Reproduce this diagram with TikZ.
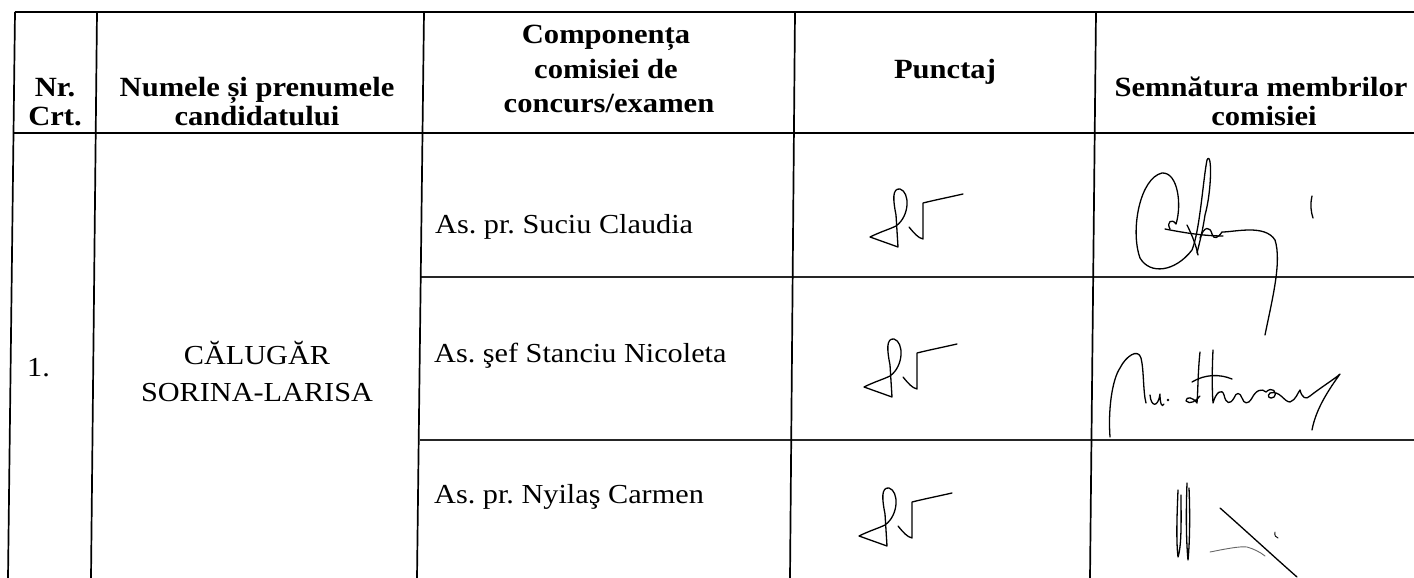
\documentclass[tikz,border=0pt]{standalone}
\usepackage{fontspec}
\setmainfont{Liberation Serif}[BoldFont={Liberation Serif Bold},FakeStretch=1.1]
\begin{document}
\frenchspacing
\begin{tikzpicture}[x=1pt,y=-1pt,
  rule/.style={line width=1.7pt,black},
  thin rule/.style={line width=1.4pt,black!85},
  head/.style={font=\fontsize{27.8}{32}\selectfont\bfseries,inner sep=0pt,anchor=base},
  body/.style={font=\fontsize{27.5}{32}\selectfont,inner sep=0pt},
  hand/.style={line width=1.3pt,line cap=round,line join=round,black},
  score/.pic={
    \draw[hand] (898,247) -- (870,237) .. controls (880,232) and (890,229) .. (896,226)
      .. controls (910,216) and (910,192) .. (900,189) .. controls (892,188) and (893,200) .. (896,215) -- (898,247);
    \draw[hand] (909,227) .. controls (914,233) and (918,238) .. (923,239) -- (923,203)
      .. controls (935,200) and (950,197) .. (963,194);
  }]
\useasboundingbox (0,0) rectangle (1414,578);
% frame coordinates
\coordinate (t0) at (15,12);   \coordinate (b0) at (8,578);
\coordinate (t1) at (97,12);   \coordinate (b1) at (91,578);
\coordinate (t2) at (424,12);  \coordinate (b2) at (417,578);
\coordinate (t3) at (795,12);  \coordinate (b3) at (790,578);
\coordinate (t4) at (1096,12); \coordinate (b4) at (1090,578);
\coordinate (tr) at (1414,12);
\coordinate (hl) at (14,133);  \coordinate (hr) at (1414,133);
\coordinate (r1l) at (421,277); \coordinate (r1r) at (1414,277);
\coordinate (r2l) at (420,440); \coordinate (r2r) at (1414,440);
% table rules
\draw[rule] (t0) -- (tr);
\draw[rule] (hl) -- (hr);
\draw[thin rule] (r1l) -- (r1r);
\draw[thin rule] (r2l) -- (r2r);
\draw[rule] (t0) -- (b0);
\draw[rule] (t1) -- (b1);
\draw[rule] (t2) -- (b2);
\draw[rule] (t3) -- (b3);
\draw[rule] (t4) -- (b4);
% header
\node[head] (h1a) at (55,96) {Nr.};
\node[head] (h1b) at (55,125) {Crt.};
\node[head] (h2a) at (257,96) {Numele și prenumele};
\node[head] (h2b) at (257,125) {candidatului};
\node[head] (h3a) at (606,44) {Componența};
\node[head] (h3b) at (606,78) {comisiei de};
\node[head] (h3c) at (609,112) {concurs/examen};
\node[head] (h4) at (945,78) {Punctaj};
\node[head] (h5a) at (1261,96) {Semnătura membrilor};
\node[head] (h5b) at (1264,125) {comisiei};
% body
\node[body,anchor=base west] (nr) at (27,376) {1.};
\node[body,anchor=base] (c1) at (257,364) {CĂLUGĂR};
\node[body,anchor=base] (c2) at (257,401) {SORINA-LARISA};
\node[body,anchor=base west] (m1) at (435,233) {As. pr. Suciu Claudia};
\node[body,anchor=base west] (m2) at (434,362) {As. şef Stanciu Nicoleta};
\node[body,anchor=base west] (m3) at (434,503) {As. pr. Nyilaş Carmen};
% handwritten scores
\pic at (0,0) {score};
\pic at (-6,150) {score};
\pic at (-11,299) {score};
% signature 1
\draw[hand] (1170,229) .. controls (1166,222) and (1172,218) .. (1176,224)
  .. controls (1182,205) and (1178,172) .. (1162,173)
  .. controls (1140,178) and (1130,230) .. (1140,258)
  .. controls (1150,275) and (1175,272) .. (1192,250)
  .. controls (1200,230) and (1203,180) .. (1207,160)
  .. controls (1212,150) and (1212,190) .. (1205,215)
  .. controls (1202,235) and (1198,248) .. (1197,253);
\draw[hand] (1165,229) .. controls (1185,233) and (1205,236) .. (1223,236);
\draw[hand] (1187,225) .. controls (1192,235) and (1196,245) .. (1198,255);
\draw[hand] (1200,238) .. controls (1204,226) and (1210,226) .. (1212,234)
  .. controls (1214,240) and (1218,238) .. (1222,232)
  .. controls (1235,232) and (1265,224) .. (1275,240)
  .. controls (1282,262) and (1272,300) .. (1265,335);
\draw[hand] (1312,196) .. controls (1310,205) and (1311,212) .. (1313,218);
% signature 2
\draw[hand] (1110,437) .. controls (1108,410) and (1112,380) .. (1120,368)
  .. controls (1126,356) and (1138,348) .. (1141,358)
  .. controls (1144,370) and (1143,392) .. (1146,403);
\draw[hand] (1150,395) .. controls (1151,407) and (1158,408) .. (1160,394)
  .. controls (1160,404) and (1162,408) .. (1164,404);
\fill (1168,400) circle (1.3);
\draw[hand] (1200,352) .. controls (1198,370) and (1198,390) .. (1197,403)
  .. controls (1193,397) and (1186,396) .. (1186,401)
  .. controls (1190,405) and (1196,401) .. (1200,396);
\draw[hand] (1192,382) .. controls (1205,374) and (1220,374) .. (1232,379);
\draw[hand] (1213,350) .. controls (1212,370) and (1212,390) .. (1213,403)
  .. controls (1216,392) and (1222,388) .. (1224,395)
  .. controls (1226,404) and (1230,405) .. (1234,398)
  .. controls (1236,392) and (1240,392) .. (1242,398)
  .. controls (1244,404) and (1248,405) .. (1252,398)
  .. controls (1256,390) and (1262,388) .. (1266,392)
  .. controls (1272,386) and (1278,392) .. (1274,397)
  .. controls (1270,400) and (1266,396) .. (1270,393)
  .. controls (1280,390) and (1284,402) .. (1290,402)
  .. controls (1296,400) and (1298,392) .. (1300,390)
  .. controls (1302,398) and (1306,400) .. (1310,396)
  .. controls (1320,388) and (1336,378) .. (1340,374)
  .. controls (1330,388) and (1316,408) .. (1312,430);
% signature 3
\draw[hand] (1178,490) .. controls (1177,515) and (1176,540) .. (1178,557)
  .. controls (1182,545) and (1181,515) .. (1181,495);
\draw[hand] (1187,483) .. controls (1186,510) and (1186,540) .. (1188,560)
  .. controls (1190,540) and (1190,510) .. (1189,488);
\draw[hand] (1220,508) .. controls (1245,530) and (1272,555) .. (1297,577);
\draw[hand,line width=0.9pt,black!60] (1210,552) .. controls (1225,549) and (1240,546) .. (1247,547)
  .. controls (1254,549) and (1260,552) .. (1265,556);
\draw[hand,line width=0.9pt] (1275,532) .. controls (1274,535) and (1276,538) .. (1278,538);
\end{tikzpicture}
\end{document}
